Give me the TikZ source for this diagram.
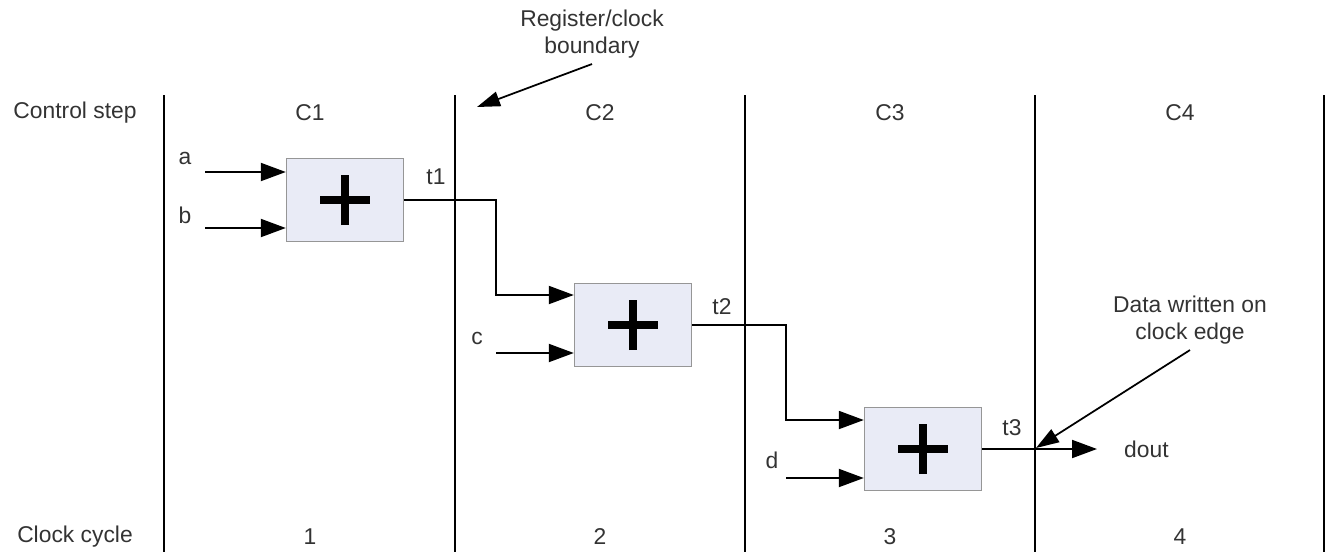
\documentclass[tikz,border=0pt]{standalone}
\usepackage{fontspec}
\setmainfont{Liberation Sans}
\usetikzlibrary{arrows.meta}
\definecolor{boxfill}{RGB}{233,235,246}
\definecolor{boxline}{RGB}{150,150,150}
\definecolor{txt}{RGB}{51,51,51}

\begin{document}
\begin{tikzpicture}[x=0.02cm, y=-0.02cm,
  every node/.style={font=\fontsize{13}{15}\selectfont, text=txt},
  adder/.style={draw=boxline, fill=boxfill, line width=0.8pt, minimum width=2.34cm, minimum height=1.66cm, inner sep=0pt},
  wire/.style={line width=1.1pt},
  sig/.style={line width=1.1pt, -{Triangle[length=0.5cm, width=0.36cm]}},
  note/.style={line width=1pt, -{Triangle[length=0.46cm, width=0.3cm]}},
  plus/.style={line width=5pt}]
\useasboundingbox (0,0) rectangle (1326,552);

\foreach \x in {164,455,745,1035,1324}
  \draw[wire] (\x,95) -- (\x,552);

\node (cs) at (75,113) {Control step};
\node (cc) at (75,537) {Clock cycle};
\foreach \i/\x in {1/310,2/600,3/890,4/1180} {
  \node (c\i) at (\x,113) {C\i};
  \node (n\i) at (\x,537) {\i};
}

\node[adder] (add1) at (345,200) {};
\node[adder] (add2) at (633,325) {};
\node[adder] (add3) at (923,449) {};
\foreach \n in {add1,add2,add3}
  \draw[plus] ([xshift=-0.5cm]\n.center) -- ([xshift=0.5cm]\n.center)
              ([yshift=-0.5cm]\n.center) -- ([yshift=0.5cm]\n.center);

\coordinate (ina) at (205,172);
\coordinate (inb) at (205,228);
\coordinate (inc) at (496,353);
\coordinate (ind) at (786,478);
\node (la) at (185,158) {a};
\node (lb) at (185,215) {b};
\node (lc) at (477,338) {c};
\node (ld) at (772,460) {d};
\draw[sig] (ina) -- (ina -| add1.west);
\draw[sig] (inb) -- (inb -| add1.west);
\draw[sig] (inc) -- (inc -| add2.west);
\draw[sig] (ind) -- (ind -| add3.west);

\coordinate (add2in) at ([yshift=0.6cm]add2.west);
\coordinate (add3in) at ([yshift=0.58cm]add3.west);
\coordinate (turn1) at (496,0);
\coordinate (turn2) at (786,0);
\coordinate (douttip) at (1097,0);
\draw[sig] (add1.east) -| (turn1 |- add2in) -- (add2in);
\draw[sig] (add2.east) -| (turn2 |- add3in) -- (add3in);
\draw[sig] (add3.east) -- (add3.east -| douttip);
\node (t1) at (436,177) {t1};
\node (t2) at (722,307) {t2};
\node (t3) at (1012,428) {t3};
\node[anchor=west] (dout) at (1118,449) {dout};

\node[align=center] (reg) at (592,34) {Register/clock\\boundary};
\coordinate (regtip) at (477,107);
\draw[note] (reg.south) -- (regtip);

\node[align=center] (edge) at (1190,320) {Data written on\\clock edge};
\coordinate (edgetip) at (1036,448);
\draw[note] (edge.south) -- (edgetip);
\end{tikzpicture}
\end{document}
